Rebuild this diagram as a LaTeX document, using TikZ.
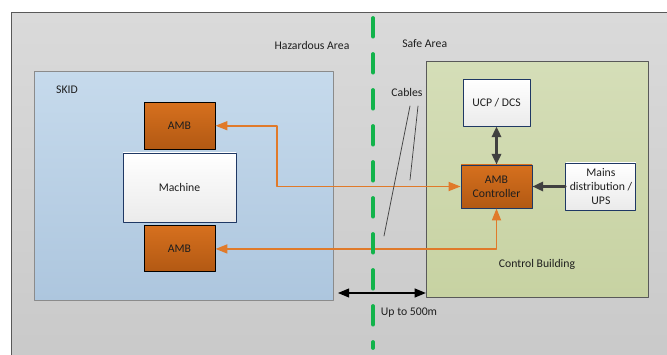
\documentclass[tikz,border=0pt]{standalone}
\usepackage{fontspec}
\setmainfont{Carlito}
\usepackage{tikz}
\usetikzlibrary{arrows.meta,positioning,calc}
\definecolor{navy}{HTML}{1F3864}
\definecolor{ink}{HTML}{1E1E1E}
\definecolor{frame}{HTML}{595959}
\definecolor{sitetop}{HTML}{DADADA}
\definecolor{sitebot}{HTML}{C9C9C9}
\definecolor{skidtop}{HTML}{C6DAEC}
\definecolor{skidbot}{HTML}{ADC6DE}
\definecolor{cbtop}{HTML}{D5DEB8}
\definecolor{cbbot}{HTML}{C7D2A2}
\definecolor{ambtop}{HTML}{D6701E}
\definecolor{ambbot}{HTML}{B25913}
\definecolor{cable}{HTML}{E07A2A}
\definecolor{zone}{HTML}{12B34B}
\definecolor{darkgrey}{HTML}{404040}
\tikzset{
    every picture/.style={line cap=round,line join=round},
    areabox/.style={draw=frame,line width=0.7pt,anchor=north west,inner sep=0pt},
    ambbox/.style={draw=black,line width=0.8pt,top color=ambtop,bottom color=ambbot,
      minimum width=21.3mm,minimum height=14mm,inner sep=2pt,text=ink,align=center},
    whitebox/.style={draw=navy,line width=0.8pt,top color=white,bottom color=white!92!black,
      minimum width=21mm,minimum height=14.1mm,inner sep=2pt,text=ink,align=center},
    tag/.style={text=ink,inner sep=1pt,align=center},
    orangeflow/.style={{Triangle[length=3.6mm,width=2.7mm]}-{Triangle[length=3.6mm,width=2.7mm]},
      draw=cable,line width=1.5pt},
    greyflow/.style={-{Triangle[length=3.2mm,width=2.8mm]},draw=darkgrey,line width=2pt},
    greyboth/.style={greyflow,{Triangle[length=3.2mm,width=2.8mm]}-{Triangle[length=3.2mm,width=2.8mm]}},
    spanarrow/.style={{Triangle[length=3.4mm,width=2.6mm]}-{Triangle[length=3.4mm,width=2.6mm]},
      draw=black,line width=1.8pt},
    zoneline/.style={draw=zone,line width=3.2pt,dash pattern=on 5.6mm off 5.2mm},
    cableline/.style={draw=darkgrey,line width=0.6pt}
}
\begin{document}
\begin{tikzpicture}[font=\normalsize]
  \useasboundingbox (0,0) rectangle (20.01,10.62);
  \node[areabox,top color=sitetop,bottom color=sitebot,minimum width=20.2cm,minimum height=10.6cm]
    (site) at (0.33,10.26) {};
  \node[areabox,draw=frame!70,top color=skidtop,bottom color=skidbot,minimum width=89.7mm,
    minimum height=68.7mm] (skid) at (1.02,8.49) {};
  \node[areabox,top color=cbtop,bottom color=cbbot,minimum width=66.6mm,minimum height=70.8mm]
    (cb) at (12.78,8.79) {};
  \node[tag] (skidlabel) at (2.01,7.92) {SKID};
  \node[tag] (hazard) at (9.36,9.27) {Hazardous Area};
  \node[tag] (safe) at (12.74,9.3) {Safe Area};
  \node[tag] (cables) at (12.21,7.86) {Cables};
  \node[tag] (cblabel) at (16.11,2.7) {Control Building};
  \node[tag] (dist) at (12.27,1.23) {Up to 500m};
  \node[whitebox,minimum width=33.9mm,minimum height=20.7mm] (machine) at (5.385,4.995) {Machine};
  \node[ambbox,above=0.9mm of machine] (ambtop) {AMB};
  \node[ambbox,below=0.9mm of machine,minimum height=13.8mm] (ambbot) {AMB};
  \node[ambbox,draw=navy,minimum height=12.9mm] (controller) at (14.895,5.025) {AMB\\Controller};
  \node[whitebox,minimum width=20.1mm,above=11.4mm of controller] (ucp) {UCP / DCS};
  \node[whitebox,right=9.9mm of controller] (mains) {Mains\\distribution /\\UPS};
  \coordinate (bend) at (8.31,6.84);
  \coordinate (span) at (0,1.83);
  \coordinate (cabA) at (12.3,7.44);
  \coordinate (cabB) at (11.52,3.54);
  \coordinate (cabC) at (12.54,7.44);
  \coordinate (cabD) at (12.3,5.22);
  \coordinate (zonetop) at (11.19,10.08);
  \coordinate (zonebot) at (11.19,0.18);
  \draw[orangeflow] (controller.west) -- (controller.west -| bend) |- (ambtop.east);
  \draw[orangeflow] (ambbot.east) -| (controller.south);
  \draw[greyboth] (ucp) -- (controller);
  \draw[greyflow] (mains) -- (controller);
  \draw[cableline] (cabA) -- (cabB);
  \draw[cableline] (cabC) -- (cabD);
  \draw[spanarrow] ([xshift=1.2mm]skid.east |- span) -- (cb.west |- span);
  \draw[zoneline] (zonetop) -- (zonebot);
\end{tikzpicture}
\end{document}
